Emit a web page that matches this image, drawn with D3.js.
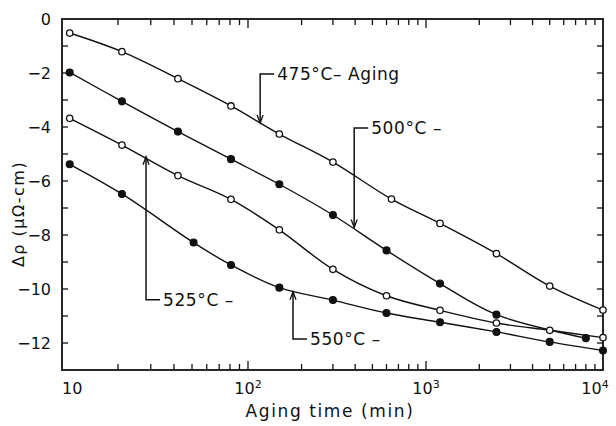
<!DOCTYPE html>
<html>
<head>
<meta charset="utf-8">
<script src="https://cdn.jsdelivr.net/npm/d3@7"></script>
<style>
  html, body { margin: 0; padding: 0; background: #fff; }
  svg text { font-family: "DejaVu Sans", sans-serif; fill: #111; }
</style>
</head>
<body>
<svg id="chart" width="616" height="426"></svg>
<script>
// Resistivity change vs. aging time, four aging temperatures
const temps = ["475", "500", "525", "550"];
const filled = [false, true, false, true];

const times475 = [11, 21, 42, 81, 150, 300, 640, 1200, 2500, 5000, 10000];
const vals475  = [-0.52, -1.21, -2.21, -3.22, -4.26, -5.30, -6.67, -7.57, -8.69, -9.89, -10.78];

const times500 = [11, 21, 42, 81, 150, 300, 600, 1200, 2500, 8000];
const vals500  = [-1.98, -3.05, -4.17, -5.19, -6.12, -7.26, -8.57, -9.80, -10.95, -11.82];

const times525 = [11, 21, 42, 81, 150, 300, 600, 1200, 2500, 5000, 10000];
const vals525  = [-3.68, -4.67, -5.80, -6.68, -7.81, -9.27, -10.25, -10.79, -11.26, -11.53, -11.80];

const times550 = [11, 21, 51, 81, 150, 300, 600, 1200, 2500, 5000, 10000];
const vals550  = [-5.38, -6.48, -8.28, -9.11, -9.95, -10.41, -10.89, -11.23, -11.59, -11.96, -12.28];

const seriesTimes = [times475, times500, times525, times550];
const seriesVals = [vals475, vals500, vals525, vals550];

const yTicks = [0, -2, -4, -6, -8, -10, -12];
const xDecades = [10, 100, 1000, 10000];
const xDecadeExp = ["", "2", "3", "4"];

// Callout labels: text, anchor point on the curve [time, value], elbow value
const calloutText = ["475°C– Aging", "500°C –", "525°C –", "550°C –"];
const calloutAt = [[117, -3.85], [395, -7.72], [28.3, -5.1], [179, -10.1]];
const calloutElbow = [-2.04, -4.04, -10.4, -11.85];

const svg = d3.select("#chart");

const x = d3.scaleLog().domain(xDecades).range([62, 248, 426, 603]);
const y = d3.scaleLinear().domain([-13, 0]).range([370, 19]);

const [x0, x1] = [x(10), x(10000)];
const [y0, y1] = [y(-13), y(0)];

// frame
svg.append("rect")
  .attr("x", x0).attr("y", y1)
  .attr("width", x1 - x0).attr("height", y0 - y1)
  .attr("fill", "none").attr("stroke", "#111").attr("stroke-width", 1.8);

// log ticks on bottom and top, pointing inward
const minorX = [];
for (let d = 10; d < 10000; d *= 10) {
  for (let k = 2; k <= 9; k++) minorX.push(d * k);
}
const tg = svg.append("g").attr("stroke", "#111").attr("stroke-width", 1.3);
minorX.forEach(v => {
  tg.append("line").attr("x1", x(v)).attr("x2", x(v)).attr("y1", y0).attr("y2", y0 - 6);
  tg.append("line").attr("x1", x(v)).attr("x2", x(v)).attr("y1", y1).attr("y2", y1 + 6);
});
xDecades.slice(1, 3).forEach(v => {
  tg.append("line").attr("x1", x(v)).attr("x2", x(v)).attr("y1", y0).attr("y2", y0 - 9);
  tg.append("line").attr("x1", x(v)).attr("x2", x(v)).attr("y1", y1).attr("y2", y1 + 9);
});
// linear ticks every unit on left and right
d3.range(-12, 0).forEach(v => {
  tg.append("line").attr("x1", x0).attr("x2", x0 + 6).attr("y1", y(v)).attr("y2", y(v));
  tg.append("line").attr("x1", x1).attr("x2", x1 - 6).attr("y1", y(v)).attr("y2", y(v));
});

// y tick labels
svg.append("g").selectAll("text").data(yTicks).join("text")
  .attr("x", 51).attr("y", d => y(d) + 6)
  .attr("text-anchor", "end")
  .attr("font-size", 16)
  .text(d => d === 0 ? "0" : "−" + Math.abs(d));

// x tick labels (10, 10², 10³, 10⁴)
const xl = svg.append("g");
xDecades.forEach((v, i) => {
  const t = xl.append("text").attr("y", 394).attr("font-size", 16);
  if (i === 0) {
    t.attr("x", x(v)).attr("text-anchor", "start").text("10");
  } else {
    const base = i === 3 ? x(v) - 8 : x(v);
    t.attr("x", base).attr("text-anchor", "middle");
    t.append("tspan").text("10");
    t.append("tspan").attr("dy", -6).attr("font-size", 11).text(xDecadeExp[i]);
  }
});

// axis titles
svg.append("text")
  .attr("x", 330).attr("y", 417)
  .attr("text-anchor", "middle")
  .attr("font-size", 17).attr("letter-spacing", 1.6)
  .text("Aging time (min)");

svg.append("text")
  .attr("transform", "translate(24,214) rotate(-90)")
  .attr("text-anchor", "middle")
  .attr("font-size", 16).attr("letter-spacing", 1.5)
  .text("Δρ (μΩ-cm)");

// curves
const line = d3.line()
  .x(d => x(d[0])).y(d => y(d[1]))
  .curve(d3.curveCatmullRom.alpha(0.5));

const plot = svg.append("g");
seriesTimes.forEach((ts, i) => {
  const pts = ts.map((t, j) => [t, seriesVals[i][j]]);
  plot.append("path").datum(pts)
    .attr("d", line)
    .attr("fill", "none").attr("stroke", "#111").attr("stroke-width", 1.4);
});
seriesTimes.forEach((ts, i) => {
  const pts = ts.map((t, j) => [t, seriesVals[i][j]]);
  plot.append("g").selectAll("circle").data(pts).join("circle")
    .attr("cx", d => x(d[0])).attr("cy", d => y(d[1]))
    .attr("r", filled[i] ? 3.4 : 3.2)
    .attr("fill", filled[i] ? "#111" : "#fff")
    .attr("stroke", "#111").attr("stroke-width", 1.3);
});

// callouts with arrows
const cg = svg.append("g");
calloutText.forEach((txt, i) => {
  const ax = x(calloutAt[i][0]);
  const ay = y(calloutAt[i][1]);
  const ey = y(calloutElbow[i]);
  const dir = ay > ey ? 1 : -1; // arrow points down (1) or up (-1)
  cg.append("path")
    .attr("d", `M${ax},${ay} L${ax},${ey} L${ax + 14},${ey}`)
    .attr("fill", "none").attr("stroke", "#111").attr("stroke-width", 1.5);
  cg.append("path")
    .attr("d", `M${ax - 3},${ay - dir * 8} L${ax},${ay} L${ax + 3},${ay - dir * 8}`)
    .attr("fill", "none").attr("stroke", "#111").attr("stroke-width", 1.3);
  cg.append("text")
    .attr("x", ax + 17).attr("y", ey + 6)
    .attr("font-size", 17).attr("letter-spacing", 0.6)
    .text(txt);
});
</script>
</body>
</html>
